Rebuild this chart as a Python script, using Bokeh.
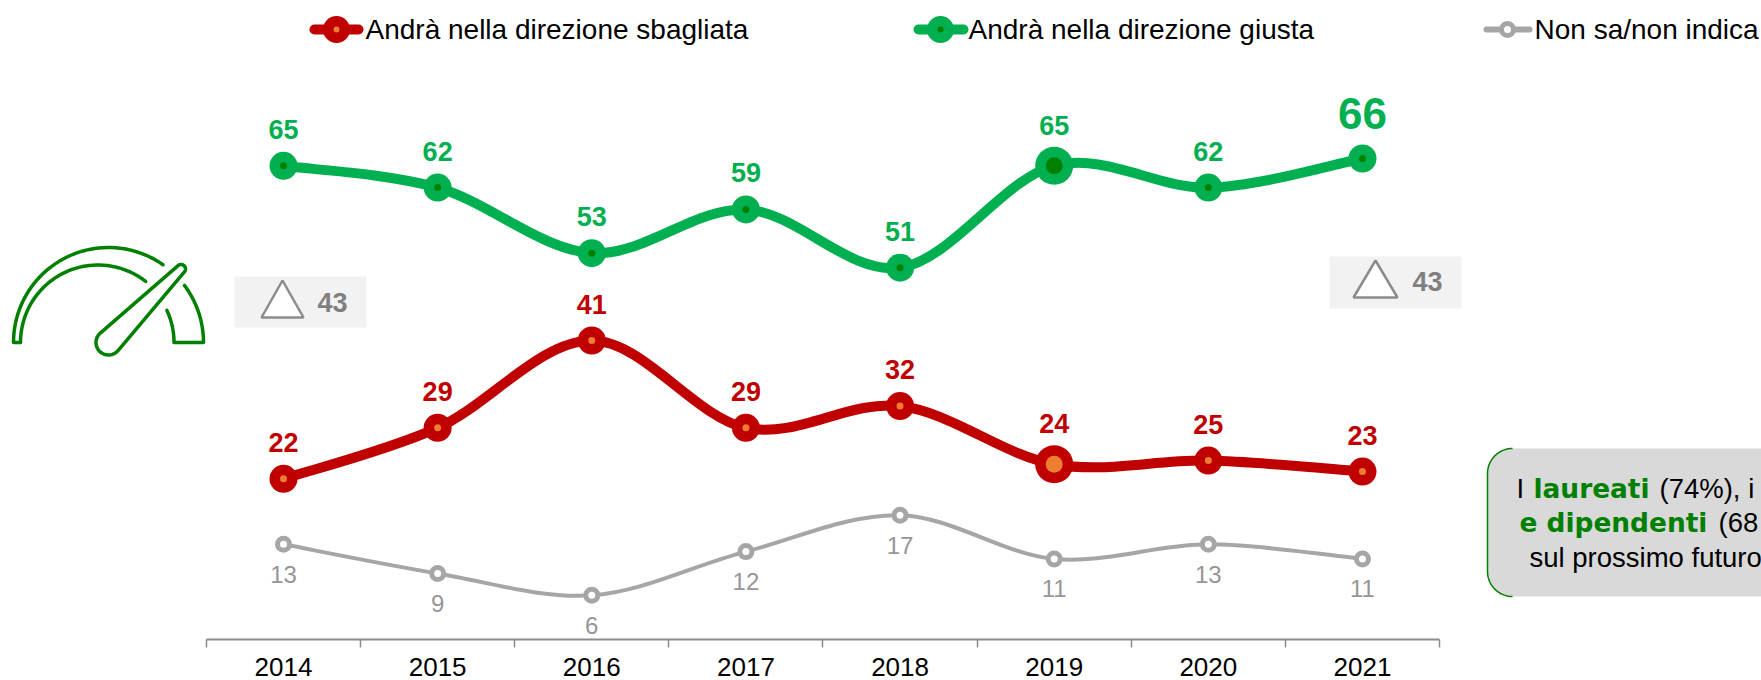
import numpy as np
from bokeh.plotting import figure
from bokeh.models import Range1d, LinearAxis, FixedTicker
from bokeh.core.properties import value
from bokeh.embed import file_html
from bokeh.resources import INLINE

years = [2014, 2015, 2016, 2017, 2018, 2019, 2020, 2021]
giusta = [65, 62, 53, 59, 51, 65, 62, 66]
sbagliata = [22, 29, 41, 29, 32, 24, 24.5, 23]
sbagliata_labels = ["22", "29", "41", "29", "32", "24", "25", "23"]
non_sa = [13, 9, 6, 12, 17, 11, 13, 11]
legend_labels = ["Andrà nella direzione sbagliata", "Andrà nella direzione giusta", "Non sa/non indica"]
delta_first = 43
delta_last = 43

ARIAL = value("Liberation Sans")
GREEN, DKGREEN, RED, ORANGE, GREY, TXTGREY = "#00B050", "#008000", "#C00000", "#ED7D31", "#A6A6A6", "#969696"

PAGE_L, PAGE_T, PAGE_R, AXIS_Y = 0, 0, 1761, 639
X0, DX = 283, 154.14       # picture px of first year, px per year
Y66, DY = 158, 7.28        # picture px of value 66, px per unit


def xr(px):
    return years[0] + (px - X0) / DX


def yr(py):
    return 66 - (py - Y66) / DY


p = figure(width=1761, height=680, output_backend="svg", toolbar_location=None,
           x_range=Range1d(xr(PAGE_L), xr(PAGE_R)), y_range=Range1d(yr(AXIS_Y), yr(PAGE_T)),
           y_axis_location=None, x_axis_location=None,
           min_border_left=0, min_border_right=0, min_border_top=0, min_border_bottom=41,
           outline_line_color=None, background_fill_color="white")
p.grid.visible = False
p.extra_x_ranges["px"] = Range1d(PAGE_L, PAGE_R)
p.extra_y_ranges["px"] = Range1d(AXIS_Y, PAGE_T)
PX = dict(x_range_name="px", y_range_name="px")

ax = LinearAxis(ticker=FixedTicker(ticks=years, minor_ticks=[y - 0.5 for y in years] + [years[-1] + 0.5]),
                bounds=(years[0] - 0.5, years[-1] + 0.5))
ax.axis_line_color = "#8C8C8C"
ax.axis_line_width = 2
ax.major_tick_line_color = None
ax.major_tick_out = 0
ax.major_tick_in = 0
ax.minor_tick_line_color = "#8C8C8C"
ax.minor_tick_line_width = 1.5
ax.minor_tick_out = 8
ax.minor_tick_in = 0
ax.major_label_text_font = "Liberation Sans"
ax.major_label_text_font_size = "26px"
ax.major_label_text_color = "#000000"
ax.major_label_standoff = 10
ax.formatter.use_scientific = False
p.add_layout(ax, "below")


def smooth(series, **kw):
    x = np.array(years, float)
    y = np.array(series, float)
    xp = np.r_[x[0], x, x[-1]]
    yp = np.r_[y[0], y, y[-1]]
    tx = (xp[2:] - xp[:-2]) / 6
    ty = (yp[2:] - yp[:-2]) / 6
    p.bezier(x0=x[:-1], y0=y[:-1], x1=x[1:], y1=y[1:],
             cx0=x[:-1] + tx[:-1], cy0=y[:-1] + ty[:-1],
             cx1=x[1:] - tx[1:], cy1=y[1:] - ty[1:], line_cap="round", **kw)


def series_marks(series, col, inner, lw, big_year=None):
    smooth(series, line_color=col, line_width=lw)
    size = [38 if y == big_year else 28 for y in years]
    isize = [17 if y == big_year else 7 for y in years]
    p.scatter(years, series, size=size, fill_color=col, line_color=None)
    p.scatter(years, series, size=isize, fill_color=inner, line_color=None)
    return [-40.5 if y == big_year else -36.5 for y in years]


# grey series
smooth(non_sa, line_color=GREY, line_width=4)
p.scatter(years, non_sa, size=12, fill_color="white", line_color=GREY, line_width=5)
p.text(years, non_sa, text=[str(v) for v in non_sa], text_font=ARIAL, text_font_size="24px",
       text_color=TXTGREY, text_align="center", text_baseline="middle", y_offset=30)

# red series
off = series_marks(sbagliata, RED, ORANGE, 10, 2019)
p.text(years, sbagliata, text=sbagliata_labels, text_font=ARIAL, text_font_size="27px",
       text_font_style="bold", text_color=RED, text_align="center", text_baseline="middle", y_offset=off)

# green series
off = series_marks(giusta, GREEN, DKGREEN, 10, 2019)
p.text(years[:-1], giusta[:-1], text=[str(v) for v in giusta[:-1]], text_font=ARIAL, text_font_size="27px",
       text_font_style="bold", text_color=GREEN, text_align="center", text_baseline="middle", y_offset=off[:-1])
p.text(years[-1:], giusta[-1:], text=[str(giusta[-1])], text_font=ARIAL, text_font_size="44px",
       text_font_style="bold", text_color=GREEN, text_align="center", text_baseline="middle", y_offset=-45)

# legend
LY = 29
for (lx0, lx1, cx, tx), label, col, inner, thick in zip(
        [(314, 358, 336, 365), (918, 963, 940, 968), (1486, 1529, 1507, 1534)], legend_labels,
        [RED, GREEN, GREY], [ORANGE, DKGREEN, "white"], [True, True, False]):
    p.line([lx0, lx1], [LY, LY], line_color=col, line_width=10 if thick else 6, line_cap="round", **PX)
    if thick:
        p.scatter([cx], [LY], size=27, fill_color=col, line_color=None, **PX)
        p.scatter([cx], [LY], size=6, fill_color=inner, line_color=None, **PX)
    else:
        p.scatter([cx], [LY], size=12, fill_color="white", line_color=col, line_width=5, **PX)
    p.text([tx], [LY], text=[label], text_font=ARIAL, text_font_size="28px", text_color="#000000",
           text_align="left", text_baseline="middle", **PX)

# delta badges
for (bx0, bx1, by0, by1, ax_, ay, hw, th, tx, ty), d in zip(
        [(234, 366, 276, 327, 282, 280, 21, 37, 332, 302), (1329, 1461, 256, 308, 1375, 260, 22, 37, 1427, 281)],
        [delta_first, delta_last]):
    p.quad(left=bx0, right=bx1, top=by0, bottom=by1, fill_color="#F2F2F2", line_color=None, **PX)
    p.patch([ax_, ax_ - hw, ax_ + hw], [ay, ay + th, ay + th], fill_color="#FFFFFF", line_color="#8C8C8C",
            line_width=2.5, **PX)
    p.text([tx], [ty], text=[str(d)], text_font=ARIAL, text_font_size="27px", text_font_style="bold",
           text_color="#7F7F7F", text_align="center", text_baseline="middle", **PX)


# gauge icon
def arc(cx, cy, r, a0, a1, n=50):
    t = np.radians(np.linspace(a0, a1, n))
    return cx + r * np.cos(t), cy - r * np.sin(t)


gx, gy = [], []
x1, y1 = arc(108, 342, 95, 180, 55)
gx.append(np.r_[20, x1]); gy.append(np.r_[342, y1])
x2, y2 = arc(97.5, 342, 77.5, 180, 52)
gx.append(x2); gy.append(y2)
x3, y3 = arc(108, 342, 95, 37, 0)
x4, y4 = arc(97.5, 342, 76, 0, 25)
gx.append(np.r_[x3, x4]); gy.append(np.r_[y3, y4])
c1, r1, c2, r2 = np.array([108., 342.]), 12.5, np.array([180.5, 268.5]), 4.5
d = c2 - c1
D = np.hypot(*d)
th = np.arctan2(d[1], d[0])
ph = np.arccos((r1 - r2) / D)
t_tip = np.linspace(th - ph, th + ph, 30)
t_bulb = np.linspace(th + ph, th - ph + 2 * np.pi, 30)
gx.append(np.r_[c2[0] + r2 * np.cos(t_tip), c1[0] + r1 * np.cos(t_bulb), c2[0] + r2 * np.cos(t_tip[0])])
gy.append(np.r_[c2[1] + r2 * np.sin(t_tip), c1[1] + r1 * np.sin(t_bulb), c2[1] + r2 * np.sin(t_tip[0])])
p.multi_line([list(a) for a in gx], [list(a) for a in gy], line_color=DKGREEN, line_width=3.5,
             line_cap="round", line_join="round", **PX)

# note box
nx0, ny0, ny1, nr = 1487, 448, 596, 25
ax1, ay1 = arc(nx0 + nr, ny0 + nr, nr, 90, 180, 20)
ax2, ay2 = arc(nx0 + nr, ny1 - nr, nr, 180, 270, 20)
p.patch(list(np.r_[1761, ax1, ax2, 1761]), list(np.r_[ny0, ay1, ay2, ny1]), fill_color="#D9D9D9", line_color=None, **PX)
p.line(list(np.r_[ax1, ax2]), list(np.r_[ay1, ay2]), line_color=DKGREEN, line_width=1.5, **PX)
note = [
    (1516, 487.5, "I", "normal", "#000000", "Liberation Sans", "27.5px"),
    (1533, 487.5, "laureati", "bold", DKGREEN, "DejaVu Sans", "26.4px"),
    (1659, 487.5, "(74%), i", "normal", "#000000", "Liberation Sans", "27.5px"),
    (1519, 522, "e dipendenti", "bold", DKGREEN, "DejaVu Sans", "26.4px"),
    (1718, 522, "(68", "normal", "#000000", "Liberation Sans", "27.5px"),
    (1529, 557, "sul prossimo futuro", "normal", "#000000", "Liberation Sans", "27.5px"),
]
for x, y, t, st, col, fnt, sz in note:
    p.text([x], [y], text=[t], text_font=value(fnt), text_font_size=sz, text_font_style=st, text_color=col,
           text_align="left", text_baseline="middle", **PX)

open("out.html", "w").write(file_html(p, INLINE))
